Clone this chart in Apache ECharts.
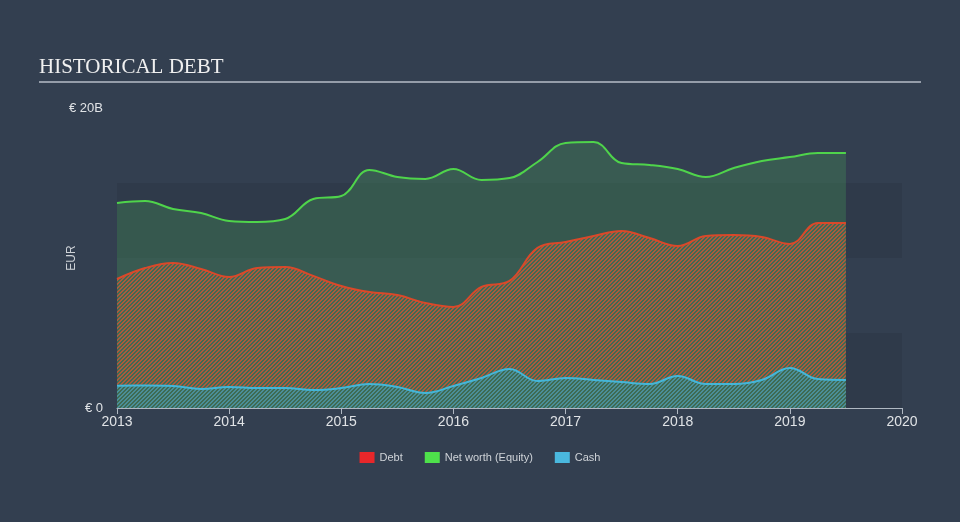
<!DOCTYPE html>
<html>
<head>
<meta charset="utf-8">
<style>
  html, body { margin: 0; padding: 0; background: #333f50; }
  #chart { width: 960px; height: 522px; }
</style>
<script src="https://cdn.jsdelivr.net/npm/echarts@6/dist/echarts.min.js"></script>
</head>
<body>
<div id="chart"></div>
<script>
// quarterly points, decimal years
var years = [2013.00, 2013.25, 2013.50, 2013.75, 2014.00, 2014.25, 2014.50, 2014.75,
  2015.00, 2015.25, 2015.50, 2015.75, 2016.00, 2016.25, 2016.50, 2016.75,
  2017.00, 2017.25, 2017.50, 2017.75, 2018.00, 2018.25, 2018.50, 2018.75,
  2019.00, 2019.25, 2019.50]
// values in billions EUR
var debt = [8.6, 9.33, 9.67, 9.27, 8.73, 9.33, 9.4, 8.8,
  8.13, 7.73, 7.53, 7.0, 6.73, 8.07, 8.47, 10.67,
  11.07, 11.47, 11.8, 11.33, 10.8, 11.47, 11.53, 11.4,
  10.93, 12.33, 12.33]
var equity = [13.67, 13.8, 13.27, 13.0, 12.47, 12.4, 12.6, 13.93,
  14.13, 15.87, 15.4, 15.27, 15.93, 15.2, 15.33, 16.4,
  17.67, 17.73, 16.33, 16.2, 15.93, 15.4, 16.0, 16.47,
  16.73, 17.0, 17.0]
var cash = [1.49, 1.5, 1.47, 1.27, 1.4, 1.33, 1.33, 1.2,
  1.33, 1.6, 1.4, 1.0, 1.47, 2.0, 2.6, 1.8,
  2.0, 1.87, 1.73, 1.6, 2.13, 1.6, 1.6, 1.87,
  2.67, 1.93, 1.87]
var yearTicks = [2013, 2020]

function pairs (vals) {
  return years.map(function (x, i) { return [x, vals[i]] })
}

// diagonal hatch tile
function hatch (stripe, base) {
  var c = document.createElement('canvas')
  c.width = 4
  c.height = 4
  var ctx = c.getContext('2d')
  for (var x = 0; x < 4; x++) {
    for (var y = 0; y < 4; y++) {
      ctx.fillStyle = ((x + y) % 4 < 2) ? stripe : base
      ctx.fillRect(x, y, 1, 1)
    }
  }
  return c
}

var myChart = echarts.init(document.getElementById('chart'))
var option = {
  backgroundColor: '#333f50',
  animation: false,
  graphic: [
    {
      type: 'text',
      left: 39,
      top: 57,
      style: {
        text: 'HISTORICAL DEBT',
        fill: '#f0f0f0',
        font: '21px "Liberation Serif", serif'
      }
    },
    {
      type: 'line',
      shape: { x1: 39, y1: 82, x2: 921, y2: 82 },
      style: { stroke: '#b7bec7', lineWidth: 1.5 }
    }
  ],
  legend: {
    data: ['Debt', 'Net worth (Equity)', 'Cash'],
    bottom: 54,
    left: 'center',
    itemWidth: 15,
    itemHeight: 11,
    itemGap: 22,
    icon: 'rect',
    textStyle: { color: '#cfd3d8', fontSize: 11, fontFamily: 'Liberation Sans' }
  },
  grid: {
    left: 117,
    right: 58,
    top: 108,
    bottom: 114
  },
  xAxis: {
    type: 'value',
    min: yearTicks[0],
    max: yearTicks[1],
    interval: 1,
    axisLine: { lineStyle: { color: '#b0b8c2', width: 1 } },
    axisTick: { show: true, length: 6, lineStyle: { color: '#b0b8c2' } },
    axisLabel: {
      color: '#e0e3e6',
      fontSize: 14,
      fontFamily: 'Liberation Sans',
      margin: 7,
      formatter: function (v) { return String(v) }
    },
    splitLine: { show: false }
  },
  yAxis: {
    type: 'value',
    min: 0,
    max: 20,
    interval: 20,
    name: 'EUR',
    nameLocation: 'middle',
    nameRotate: 90,
    nameGap: 39,
    nameMoveOverlap: false,
    nameTextStyle: { color: '#cfd3d8', fontSize: 12, fontFamily: 'Liberation Sans' },
    axisLine: { show: false },
    axisTick: { show: false },
    axisLabel: {
      color: '#e0e3e6',
      fontSize: 13,
      fontFamily: 'Liberation Sans',
      margin: 14,
      formatter: function (v) { return v === 0 ? '€ 0' : '€ ' + v + 'B' }
    },
    splitLine: { show: false }
  },
  series: [
    {
      // background bands
      type: 'line',
      data: [],
      silent: true,
      z: 1,
      markArea: {
        silent: true,
        itemStyle: { color: '#2f3a4a' },
        data: [
          [{ yAxis: 0 }, { yAxis: 5 }],
          [{ yAxis: 10 }, { yAxis: 15 }]
        ]
      }
    },
    {
      name: 'Net worth (Equity)',
      type: 'line',
      z: 3,
      data: pairs(equity),
      smooth: 0.4,
      symbol: 'none',
      lineStyle: { color: '#4fd44b', width: 2 },
      itemStyle: { color: '#4ee14b' },
      areaStyle: { color: 'rgba(70,160,90,0.42)', origin: 'start' }
    },
    {
      name: 'Debt',
      type: 'line',
      z: 4,
      data: pairs(debt),
      smooth: 0.4,
      symbol: 'none',
      lineStyle: { color: '#d9492a', width: 2 },
      itemStyle: { color: '#e8272a' },
      areaStyle: {
        color: { image: hatch('#aa5a3c', '#3f6a53'), repeat: 'repeat' },
        opacity: 1,
        origin: 'start'
      }
    },
    {
      name: 'Cash',
      type: 'line',
      z: 5,
      data: pairs(cash),
      smooth: 0.4,
      symbol: 'none',
      lineStyle: { color: '#44b6d8', width: 2 },
      itemStyle: { color: '#4ab8de' },
      areaStyle: {
        color: { image: hatch('#4a8f98', '#3f6a53'), repeat: 'repeat' },
        opacity: 1,
        origin: 'start'
      }
    }
  ]
}
myChart.setOption(option)
</script>
</body>
</html>
